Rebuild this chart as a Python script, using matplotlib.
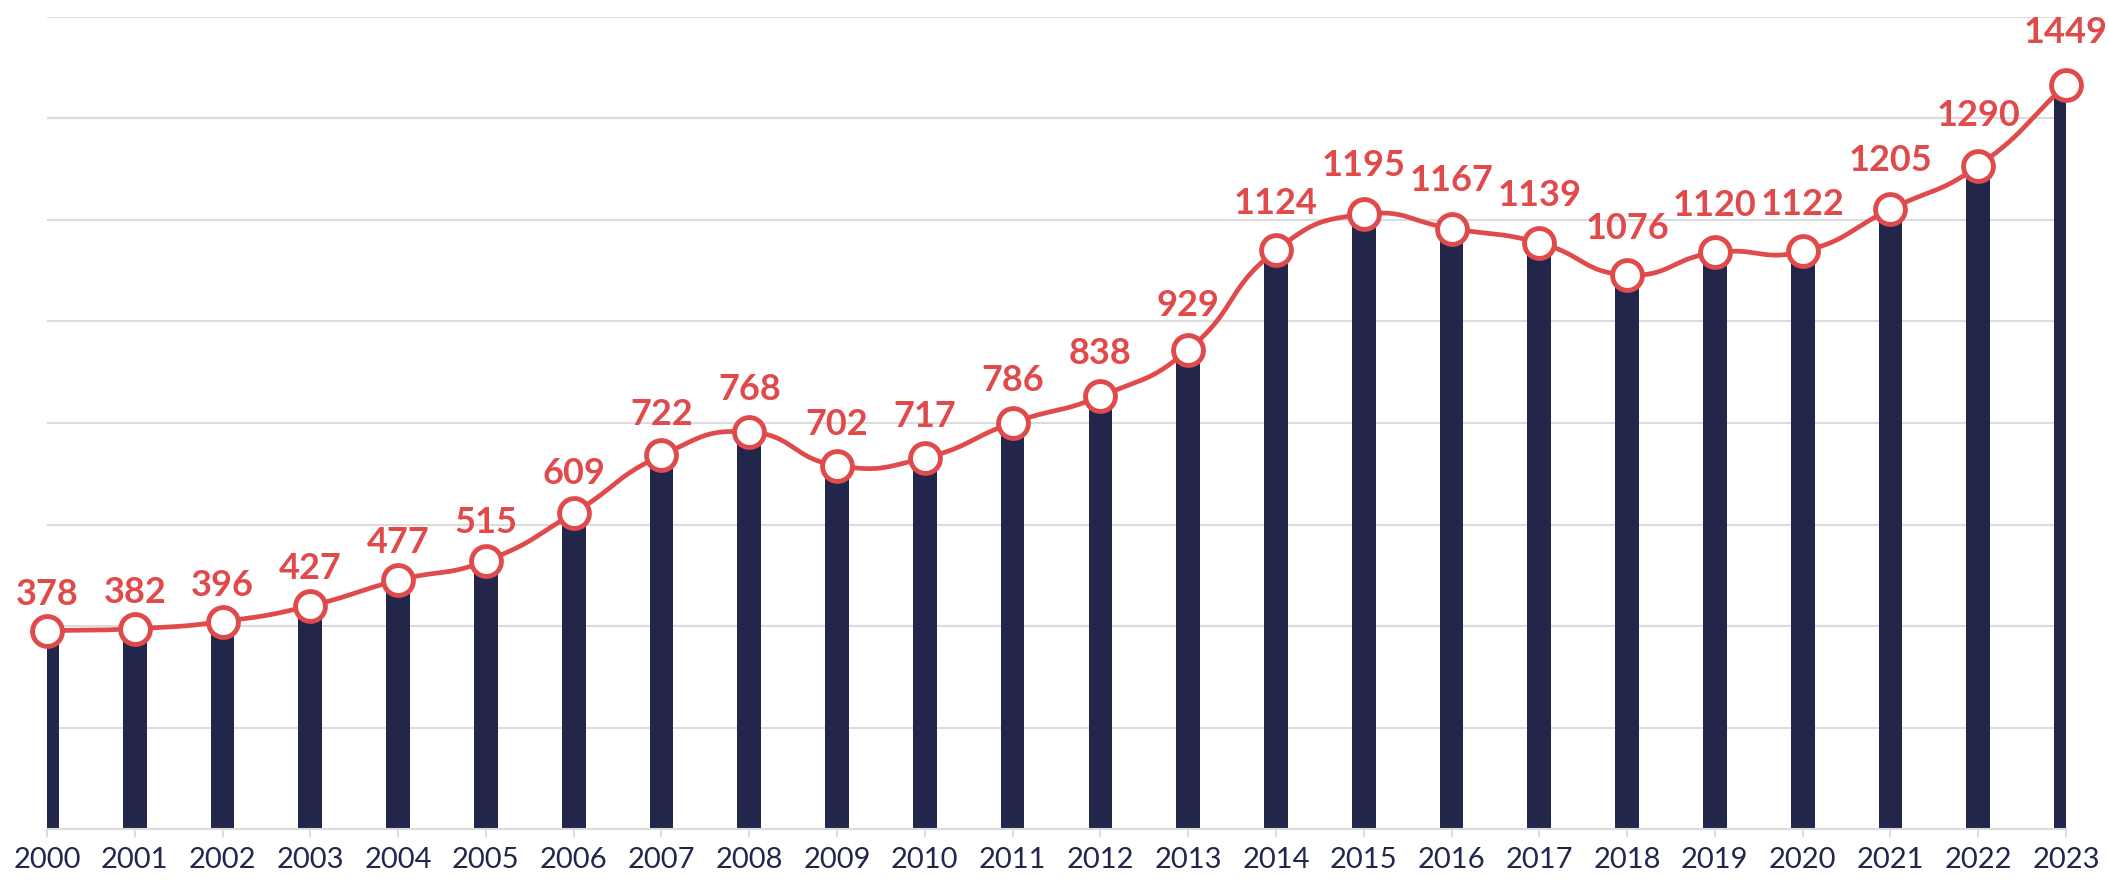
import matplotlib.pyplot as plt
import numpy as np

years = [str(y) for y in range(2000, 2024)]
values = [378, 382, 396, 427, 477, 515, 609, 722, 768, 702, 717, 786,
          838, 929, 1124, 1195, 1167, 1139, 1076, 1120, 1122, 1205, 1290, 1449]

bar_color = "#22264b"
red = "#e04a4b"
grid_color = "#dcdcdc"


def smooth_curve(xs, ys, sx, sy, smooth=0.5, n=30):
    # echarts-like bezier smoothing, lengths measured in pixel space
    px = np.asarray(xs, float) * sx
    py = np.asarray(ys, float) * sy
    m = len(px)
    cp_in = np.zeros((m, 2))
    cp_out = np.zeros((m, 2))
    for i in range(m):
        p = np.array([px[i], py[i]])
        prev = np.array([px[max(i - 1, 0)], py[max(i - 1, 0)]])
        nxt = np.array([px[min(i + 1, m - 1)], py[min(i + 1, m - 1)]])
        v = nxt - prev
        d0 = np.hypot(*(p - prev))
        d1 = np.hypot(*(nxt - p))
        r = d1 / (d0 + d1) if d0 + d1 > 0 else 0.5
        cp_in[i] = p - v * smooth * (1 - r)
        cp_out[i] = p + v * smooth * r
    t = np.linspace(0, 1, n)[:, None]
    out = []
    for i in range(m - 1):
        p0 = np.array([px[i], py[i]])
        p3 = np.array([px[i + 1], py[i + 1]])
        c1, c2 = cp_out[i], cp_in[i + 1]
        seg = ((1 - t) ** 3) * p0 + 3 * ((1 - t) ** 2) * t * c1 + 3 * (1 - t) * t ** 2 * c2 + t ** 3 * p3
        out.append(seg if i == 0 else seg[1:])
    out = np.vstack(out)
    return out[:, 0] / sx, out[:, 1] / sy


plt.rcParams['font.family'] = ['Lato', 'DejaVu Sans']

fig = plt.figure(figsize=(21.09, 8.83), dpi=100)
ax = fig.add_axes([47 / 2109, 54 / 883, (2066 - 47) / 2109, (829 - 17) / 883])

x = np.arange(len(years))
ax.bar(x, values, width=0.27, color=bar_color, zorder=2)

ax.set_xlim(0, len(years) - 1)
ax.set_ylim(0, 1600)
ax.set_yticks(np.arange(0, 1601, 200))
ax.set_yticklabels([])
ax.yaxis.grid(True, color=grid_color, lw=1.5, zorder=0)
ax.set_axisbelow(True)
ax.tick_params(axis="y", length=0)

ax.set_xticks(x)
ax.set_xticklabels(years, color=bar_color, fontsize=21)
ax.tick_params(axis="x", length=6, width=1.5, color=grid_color, pad=7)

for s in ["top", "right", "left"]:
    ax.spines[s].set_visible(False)
ax.spines["bottom"].set_color(grid_color)
ax.spines["bottom"].set_linewidth(1.5)

# line series sits on its own (hidden) value axis
ax2 = ax.twinx()
ax2.set_ylim(-11, 1582)
ax2.axis("off")

cx, cy = smooth_curve(x, values, 87.8, 812 / 1593)
ax2.plot(cx, cy, color=red, lw=3.4, zorder=3, solid_capstyle="round")
ax2.plot(x, values, "o", ms=21.5, mfc="white", mec=red, mew=3.5, zorder=4, clip_on=False)

for xi, v in zip(x, values):
    gap = (20 + 0.015 * v) / 1.389
    ax2.annotate(str(v), (xi, v), xytext=(0, gap), textcoords="offset points",
                 ha="center", va="baseline", color=red, fontsize=26, fontweight="bold",
                 zorder=5, annotation_clip=False)

fig.savefig("out.png", dpi=100)
